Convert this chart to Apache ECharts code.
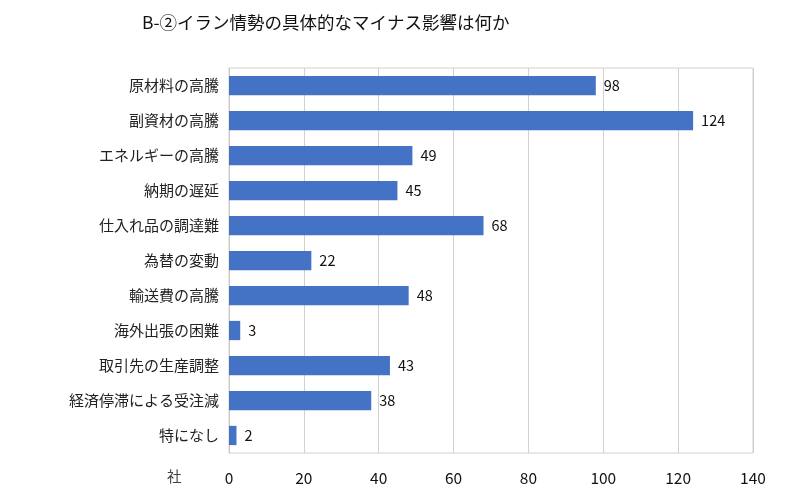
<!DOCTYPE html>
<html>
<head>
<meta charset="utf-8">
<script src="https://cdn.jsdelivr.net/npm/echarts@6/dist/echarts.min.js"></script>
<style>
    html, body { margin: 0; padding: 0; background: #fff; }
    #chart { width: 800px; height: 495px; }
</style>
</head>
<body>
<div id="chart"></div>
<script type="text/javascript">
    // 項目と回答数（社）
    var categories = ['原材料の高騰', '副資材の高騰', 'エネルギーの高騰', '納期の遅延', '仕入れ品の調達難',
        '為替の変動', '輸送費の高騰', '海外出張の困難', '取引先の生産調整', '経済停滞による受注減', '特になし'];
    var counts = [98, 124, 49, 45, 68, 22, 48, 3, 43, 38, 2];
    var xTicks = [0, 20, 40, 60, 80, 100, 120, 140];

    var font = '"Noto Sans CJK JP", "Noto Sans", sans-serif';
    var myChart = echarts.init(document.getElementById('chart'));

    var option = {
        animation: false,
        textStyle: { fontFamily: font },
        title: {
            text: 'B-②イラン情勢の具体的なマイナス影響は何か',
            left: 137,
            top: 9,
            textStyle: { fontSize: 17.5, fontWeight: 'normal', color: '#111', fontFamily: font }
        },
        grid: { left: 229, right: 47, top: 68, bottom: 42, show: true, borderColor: '#d0d0d0', borderWidth: 1 },
        xAxis: {
            type: 'value',
            min: xTicks[0],
            max: xTicks[xTicks.length - 1],
            interval: 20,
            axisLine: { show: false },
            axisTick: { show: false },
            splitLine: { lineStyle: { color: '#d0d0d0', width: 1 } },
            axisLabel: { fontSize: 15.5, color: '#111', margin: 17, fontFamily: font }
        },
        yAxis: {
            type: 'category',
            data: categories,
            inverse: true,
            axisLine: { lineStyle: { color: '#c8c8c8' } },
            axisTick: { show: false },
            axisLabel: { fontSize: 15, color: '#222', margin: 10, fontFamily: font }
        },
        graphic: [{
            type: 'text',
            left: 167,
            top: 469,
            style: { text: '社', fontSize: 14.5, fill: '#444', fontFamily: font }
        }],
        series: [{
            type: 'bar',
            data: counts,
            barCategoryGap: '45%',
            itemStyle: { color: '#4472c4' },
            label: {
                show: true,
                position: 'right',
                distance: 8,
                fontSize: 14.5,
                color: '#111',
                fontFamily: font
            }
        }]
    };

    myChart.setOption(option);
</script>
</body>
</html>
